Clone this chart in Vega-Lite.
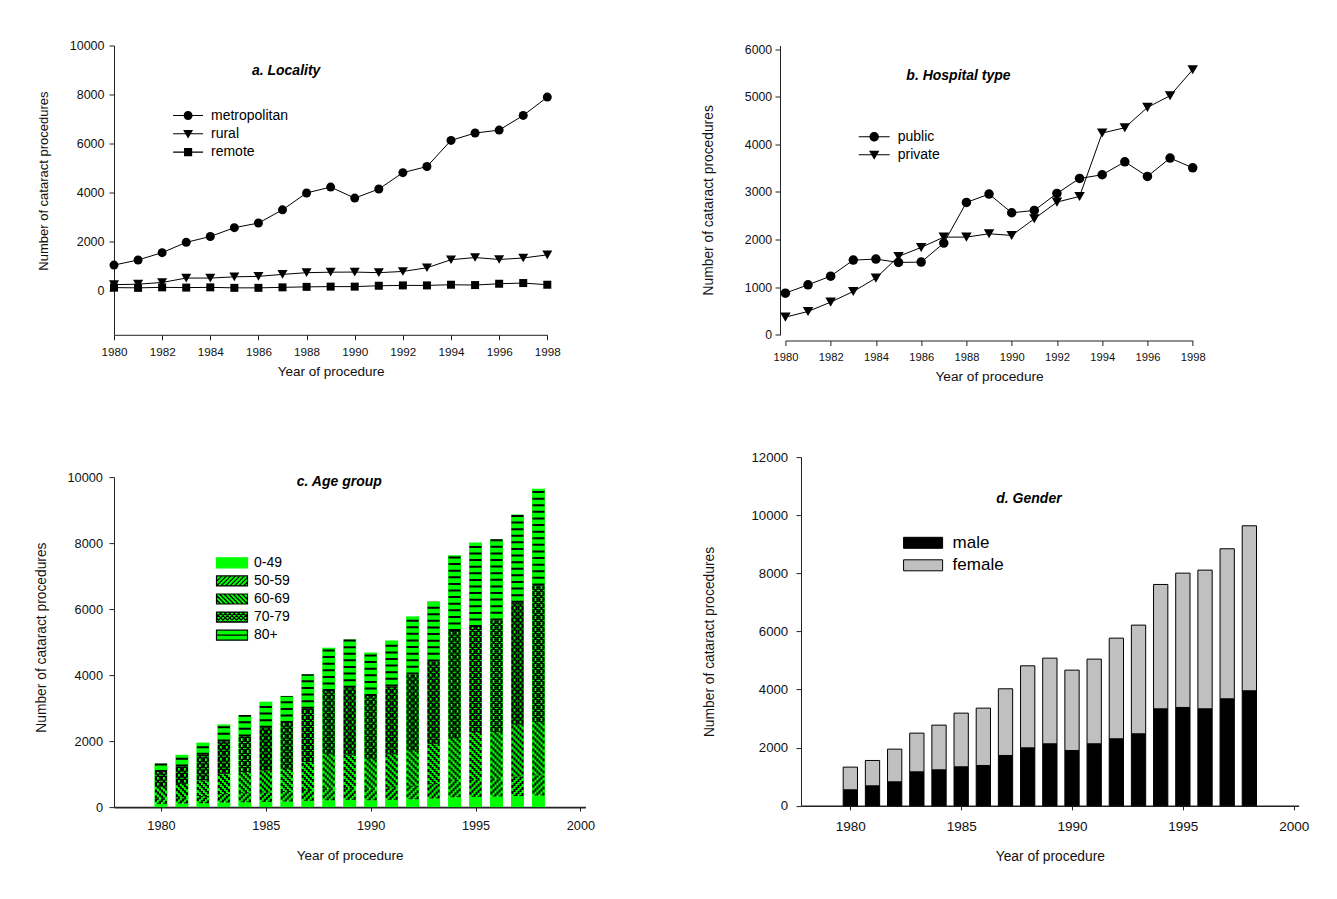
{
"$schema": "https://vega.github.io/schema/vega-lite/v6.json",
"background": "white",
"padding": {"left": 34, "top": 39.5, "right": 5, "bottom": 5},
"config": {
  "view": {"stroke": null},
  "font": "Liberation Sans",
  "axis": {"labelFlush": false, "grid": false, "domainColor": "#222", "tickColor": "#222", "labelColor": "#111", "titleColor": "#111", "titleFontWeight": "normal", "labelOverlap": false, "labelFont": "Liberation Sans", "titleFont": "Liberation Sans", "domainWidth": 1, "tickWidth": 1},
  "legend": {"labelFont": "Liberation Sans", "labelColor": "#000", "padding": 0}
},
"resolve": {"scale": {"shape": "independent", "fill": "independent", "stroke": "independent"}, "legend": {"shape": "independent", "fill": "independent", "stroke": "independent"}},
"datasets": {
  "locality": [
    {"year":1980,"series":"metropolitan","value":1020},{"year":1981,"series":"metropolitan","value":1230},{"year":1982,"series":"metropolitan","value":1530},{"year":1983,"series":"metropolitan","value":1950},{"year":1984,"series":"metropolitan","value":2190},{"year":1985,"series":"metropolitan","value":2550},{"year":1986,"series":"metropolitan","value":2740},{"year":1987,"series":"metropolitan","value":3280},{"year":1988,"series":"metropolitan","value":3970},{"year":1989,"series":"metropolitan","value":4210},{"year":1990,"series":"metropolitan","value":3760},{"year":1991,"series":"metropolitan","value":4130},{"year":1992,"series":"metropolitan","value":4800},{"year":1993,"series":"metropolitan","value":5050},{"year":1994,"series":"metropolitan","value":6120},{"year":1995,"series":"metropolitan","value":6420},{"year":1996,"series":"metropolitan","value":6540},{"year":1997,"series":"metropolitan","value":7140},{"year":1998,"series":"metropolitan","value":7890},
    {"year":1980,"series":"rural","value":220},{"year":1981,"series":"rural","value":240},{"year":1982,"series":"rural","value":310},{"year":1983,"series":"rural","value":490},{"year":1984,"series":"rural","value":490},{"year":1985,"series":"rural","value":540},{"year":1986,"series":"rural","value":560},{"year":1987,"series":"rural","value":640},{"year":1988,"series":"rural","value":710},{"year":1989,"series":"rural","value":730},{"year":1990,"series":"rural","value":735},{"year":1991,"series":"rural","value":710},{"year":1992,"series":"rural","value":760},{"year":1993,"series":"rural","value":910},{"year":1994,"series":"rural","value":1240},{"year":1995,"series":"rural","value":1330},{"year":1996,"series":"rural","value":1250},{"year":1997,"series":"rural","value":1310},{"year":1998,"series":"rural","value":1440},
    {"year":1980,"series":"remote","value":100},{"year":1981,"series":"remote","value":90},{"year":1982,"series":"remote","value":110},{"year":1983,"series":"remote","value":100},{"year":1984,"series":"remote","value":110},{"year":1985,"series":"remote","value":90},{"year":1986,"series":"remote","value":90},{"year":1987,"series":"remote","value":110},{"year":1988,"series":"remote","value":130},{"year":1989,"series":"remote","value":140},{"year":1990,"series":"remote","value":140},{"year":1991,"series":"remote","value":176},{"year":1992,"series":"remote","value":190},{"year":1993,"series":"remote","value":190},{"year":1994,"series":"remote","value":217},{"year":1995,"series":"remote","value":204},{"year":1996,"series":"remote","value":258},{"year":1997,"series":"remote","value":286},{"year":1998,"series":"remote","value":217}
  ],
  "hospital": [
    {"year":1980,"series":"public","value":875},{"year":1981,"series":"public","value":1050},{"year":1982,"series":"public","value":1232},{"year":1983,"series":"public","value":1569},{"year":1984,"series":"public","value":1590},{"year":1985,"series":"public","value":1520},{"year":1986,"series":"public","value":1527},{"year":1987,"series":"public","value":1926},{"year":1988,"series":"public","value":2780},{"year":1989,"series":"public","value":2955},{"year":1990,"series":"public","value":2563},{"year":1991,"series":"public","value":2612},{"year":1992,"series":"public","value":2969},{"year":1993,"series":"public","value":3284},{"year":1994,"series":"public","value":3361},{"year":1995,"series":"public","value":3634},{"year":1996,"series":"public","value":3326},{"year":1997,"series":"public","value":3711},{"year":1998,"series":"public","value":3508},
    {"year":1980,"series":"private","value":371},{"year":1981,"series":"private","value":490},{"year":1982,"series":"private","value":686},{"year":1983,"series":"private","value":910},{"year":1984,"series":"private","value":1190},{"year":1985,"series":"private","value":1646},{"year":1986,"series":"private","value":1835},{"year":1987,"series":"private","value":2052},{"year":1988,"series":"private","value":2052},{"year":1989,"series":"private","value":2122},{"year":1990,"series":"private","value":2087},{"year":1991,"series":"private","value":2437},{"year":1992,"series":"private","value":2787},{"year":1993,"series":"private","value":2906},{"year":1994,"series":"private","value":4237},{"year":1995,"series":"private","value":4349},{"year":1996,"series":"private","value":4776},{"year":1997,"series":"private","value":5021},{"year":1998,"series":"private","value":5567}
  ],
  "age": [
    {"year":1980,"group":"0-49","count":100},{"year":1980,"group":"50-59","count":160},{"year":1980,"group":"60-69","count":360},{"year":1980,"group":"70-79","count":440},{"year":1980,"group":"80+","count":260},
    {"year":1981,"group":"0-49","count":110},{"year":1981,"group":"50-59","count":190},{"year":1981,"group":"60-69","count":410},{"year":1981,"group":"70-79","count":522},{"year":1981,"group":"80+","count":353},
    {"year":1982,"group":"0-49","count":120},{"year":1982,"group":"50-59","count":220},{"year":1982,"group":"60-69","count":470},{"year":1982,"group":"70-79","count":776},{"year":1982,"group":"80+","count":369},
    {"year":1983,"group":"0-49","count":140},{"year":1983,"group":"50-59","count":260},{"year":1983,"group":"60-69","count":610},{"year":1983,"group":"70-79","count":980},{"year":1983,"group":"80+","count":515},
    {"year":1984,"group":"0-49","count":150},{"year":1984,"group":"50-59","count":270},{"year":1984,"group":"60-69","count":640},{"year":1984,"group":"70-79","count":1081},{"year":1984,"group":"80+","count":649},
    {"year":1985,"group":"0-49","count":160},{"year":1985,"group":"50-59","count":280},{"year":1985,"group":"60-69","count":670},{"year":1985,"group":"70-79","count":1294},{"year":1985,"group":"80+","count":791},
    {"year":1986,"group":"0-49","count":170},{"year":1986,"group":"50-59","count":290},{"year":1986,"group":"60-69","count":700},{"year":1986,"group":"70-79","count":1385},{"year":1986,"group":"80+","count":825},
    {"year":1987,"group":"0-49","count":190},{"year":1987,"group":"50-59","count":330},{"year":1987,"group":"60-69","count":844},{"year":1987,"group":"70-79","count":1616},{"year":1987,"group":"80+","count":1045},
    {"year":1988,"group":"0-49","count":210},{"year":1988,"group":"50-59","count":350},{"year":1988,"group":"60-69","count":1056},{"year":1988,"group":"70-79","count":1899},{"year":1988,"group":"80+","count":1315},
    {"year":1989,"group":"0-49","count":220},{"year":1989,"group":"50-59","count":360},{"year":1989,"group":"60-69","count":1016},{"year":1989,"group":"70-79","count":2020},{"year":1989,"group":"80+","count":1464},
    {"year":1990,"group":"0-49","count":210},{"year":1990,"group":"50-59","count":350},{"year":1990,"group":"60-69","count":905},{"year":1990,"group":"70-79","count":1899},{"year":1990,"group":"80+","count":1321},
    {"year":1991,"group":"0-49","count":220},{"year":1991,"group":"50-59","count":380},{"year":1991,"group":"60-69","count":1016},{"year":1991,"group":"70-79","count":2041},{"year":1991,"group":"80+","count":1393},
    {"year":1992,"group":"0-49","count":240},{"year":1992,"group":"50-59","count":410},{"year":1992,"group":"60-69","count":1067},{"year":1992,"group":"70-79","count":2303},{"year":1992,"group":"80+","count":1760},
    {"year":1993,"group":"0-49","count":260},{"year":1993,"group":"50-59","count":440},{"year":1993,"group":"60-69","count":1219},{"year":1993,"group":"70-79","count":2495},{"year":1993,"group":"80+","count":1811},
    {"year":1994,"group":"0-49","count":300},{"year":1994,"group":"50-59","count":500},{"year":1994,"group":"60-69","count":1301},{"year":1994,"group":"70-79","count":3232},{"year":1994,"group":"80+","count":2297},
    {"year":1995,"group":"0-49","count":310},{"year":1995,"group":"50-59","count":540},{"year":1995,"group":"60-69","count":1423},{"year":1995,"group":"70-79","count":3182},{"year":1995,"group":"80+","count":2560},
    {"year":1996,"group":"0-49","count":320},{"year":1996,"group":"50-59","count":550},{"year":1996,"group":"60-69","count":1403},{"year":1996,"group":"70-79","count":3384},{"year":1996,"group":"80+","count":2463},
    {"year":1997,"group":"0-49","count":340},{"year":1997,"group":"50-59","count":590},{"year":1997,"group":"60-69","count":1575},{"year":1997,"group":"70-79","count":3687},{"year":1997,"group":"80+","count":2673},
    {"year":1998,"group":"0-49","count":350},{"year":1998,"group":"50-59","count":610},{"year":1998,"group":"60-69","count":1616},{"year":1998,"group":"70-79","count":4141},{"year":1998,"group":"80+","count":2928}
  ],
  "gender": [
    {"year":1980,"sex":"male","count":551},{"year":1980,"sex":"female","count":780},
    {"year":1981,"sex":"male","count":688},{"year":1981,"sex":"female","count":872},
    {"year":1982,"sex":"male","count":826},{"year":1982,"sex":"female","count":1124},
    {"year":1983,"sex":"male","count":1170},{"year":1983,"sex":"female","count":1331},
    {"year":1984,"sex":"male","count":1239},{"year":1984,"sex":"female","count":1537},
    {"year":1985,"sex":"male","count":1342},{"year":1985,"sex":"female","count":1847},
    {"year":1986,"sex":"male","count":1388},{"year":1986,"sex":"female","count":1973},
    {"year":1987,"sex":"male","count":1732},{"year":1987,"sex":"female","count":2295},
    {"year":1988,"sex":"male","count":1996},{"year":1988,"sex":"female","count":2822},
    {"year":1989,"sex":"male","count":2134},{"year":1989,"sex":"female","count":2948},
    {"year":1990,"sex":"male","count":1904},{"year":1990,"sex":"female","count":2765},
    {"year":1991,"sex":"male","count":2134},{"year":1991,"sex":"female","count":2914},
    {"year":1992,"sex":"male","count":2306},{"year":1992,"sex":"female","count":3464},
    {"year":1993,"sex":"male","count":2478},{"year":1993,"sex":"female","count":3740},
    {"year":1994,"sex":"male","count":3338},{"year":1994,"sex":"female","count":4279},
    {"year":1995,"sex":"male","count":3384},{"year":1995,"sex":"female","count":4623},
    {"year":1996,"sex":"male","count":3338},{"year":1996,"sex":"female","count":4773},
    {"year":1997,"sex":"male","count":3682},{"year":1997,"sex":"female","count":5163},
    {"year":1998,"sex":"male","count":3958},{"year":1998,"sex":"female","count":5678}
  ]
},
"vconcat": [
  {
    "resolve": {"scale": {"shape": "independent", "fill": "independent", "stroke": "independent"}, "legend": {"shape": "independent", "fill": "independent", "stroke": "independent"}},
    "hconcat": [
      {
        "width": 433.3, "height": 289.3,
        "title": {"text": "a. Locality", "frame": "group", "anchor": "middle", "orient": "top", "offset": 0, "baseline": "middle", "dx": -44.5, "dy": 45.5, "fontSize": 14, "fontStyle": "italic", "fontWeight": "bold", "color": "#000"},
        "data": {"name": "locality"},
        "encoding": {
          "x": {"field": "year", "type": "quantitative", "scale": {"domain": [1980, 1998], "nice": false, "zero": false},
                "axis": {"values": [1980,1982,1984,1986,1988,1990,1992,1994,1996,1998], "format": "d", "title": "Year of procedure", "labelFontSize": 11.7, "labelPadding": 7, "tickSize": 5, "titleFontSize": 13.5, "titleY": 36.7, "titleBaseline": "middle"}},
          "y": {"field": "value", "type": "quantitative", "scale": {"domain": [-1830, 10000], "nice": false, "zero": false},
                "axis": {"values": [0,2000,4000,6000,8000,10000], "format": "d", "title": "Number of cataract procedures", "labelFontSize": 12.5, "labelPadding": 5, "tickSize": 5, "titleFontSize": 13, "titleX": -71, "titleY": 135.1, "titleBaseline": "middle"}}
        },
        "layer": [
          {"mark": {"type": "line", "color": "#000", "strokeWidth": 1}, "encoding": {"detail": {"field": "series"}}},
          {"transform": [{"filter": {"field": "series", "equal": "metropolitan"}}], "mark": {"type": "point", "shape": "circle", "filled": true, "color": "#000", "size": 81, "opacity": 1}},
          {"transform": [{"filter": {"field": "series", "equal": "rural"}}], "mark": {"type": "point", "shape": "triangle-down", "filled": true, "color": "#000", "size": 100, "opacity": 1}},
          {"transform": [{"filter": {"field": "series", "equal": "remote"}}], "mark": {"type": "point", "shape": "square", "filled": true, "color": "#000", "size": 64, "opacity": 1}},
          {"transform": [{"filter": {"field": "year", "lt": 0}}], "mark": {"type": "point", "filled": true, "color": "#000", "opacity": 1},
           "encoding": {"shape": {"field": "series", "type": "nominal",
             "scale": {"domain": ["metropolitan", "rural", "remote"], "range": [
               "M-3.33,-0.12H-0.9V0.12H-3.33Z M0.9,-0.12H3.33V0.12H0.9Z M-1,0A1,1 0 1,1 1,0A1,1 0 1,1 -1,0Z",
               "M-3.33,-0.12H-0.5V0.12H-3.33Z M0.5,-0.12H3.33V0.12H0.5Z M-1.1,-0.85L1.1,-0.85L0,1.05Z",
               "M-3.33,-0.12H-0.9V0.12H-3.33Z M0.9,-0.12H3.33V0.12H0.9Z M-0.9,-0.9H0.9V0.9H-0.9Z"]},
             "legend": {"orient": "none", "legendX": 67.1, "legendY": 63, "title": null, "symbolSize": 81, "symbolFillColor": "#000", "symbolStrokeColor": "#000", "symbolStrokeWidth": 0, "symbolOpacity": 1, "labelFontSize": 14, "labelOffset": 15.9, "rowPadding": 4.3}}}}
        ]
      },
      {
        "width": 407.3, "height": 289.3,
        "title": {"text": "b. Hospital type", "frame": "group", "anchor": "middle", "orient": "top", "offset": 0, "baseline": "middle", "dx": -30.6, "dy": 46.8, "fontSize": 14, "fontStyle": "italic", "fontWeight": "bold", "color": "#000"},
        "data": {"name": "hospital"},
        "encoding": {
          "x": {"field": "year", "type": "quantitative", "scale": {"domain": [1980, 1998], "nice": false, "zero": false},
                "axis": {"values": [1980,1982,1984,1986,1988,1990,1992,1994,1996,1998], "format": "d", "title": "Year of procedure", "offset": 5.7, "labelFontSize": 11.2, "labelPadding": 5.5, "tickSize": 5, "titleFontSize": 13.7, "titleY": 36, "titleBaseline": "middle"}},
          "y": {"field": "value", "type": "quantitative", "scale": {"domain": [0, 6076], "nice": false, "zero": false},
                "axis": {"values": [0,1000,2000,3000,4000,5000,6000], "format": "d", "title": "Number of cataract procedures", "offset": 5.4, "labelFontSize": 12.3, "labelPadding": 3.3, "tickSize": 5, "titleFontSize": 13.8, "titleX": -71.3, "titleY": 154.3, "titleBaseline": "middle"}}
        },
        "layer": [
          {"mark": {"type": "line", "color": "#000", "strokeWidth": 1}, "encoding": {"detail": {"field": "series"}}},
          {"transform": [{"filter": {"field": "series", "equal": "public"}}], "mark": {"type": "point", "shape": "circle", "filled": true, "color": "#000", "size": 90, "opacity": 1}},
          {"transform": [{"filter": {"field": "series", "equal": "private"}}], "mark": {"type": "point", "shape": "triangle-down", "filled": true, "color": "#000", "size": 110, "opacity": 1}},
          {"transform": [{"filter": {"field": "year", "lt": 0}}], "mark": {"type": "point", "filled": true, "color": "#000", "opacity": 1},
           "encoding": {"shape": {"field": "series", "type": "nominal",
             "scale": {"domain": ["public", "private"], "range": [
               "M-3.44,-0.12H-0.9V0.12H-3.44Z M0.9,-0.12H3.44V0.12H0.9Z M-1.05,0A1.05,1.05 0 1,1 1.05,0A1.05,1.05 0 1,1 -1.05,0Z",
               "M-3.44,-0.12H-0.5V0.12H-3.44Z M0.5,-0.12H3.44V0.12H0.5Z M-1.15,-0.9L1.15,-0.9L0,1.1Z"]},
             "legend": {"orient": "none", "legendX": 81.8, "legendY": 84.3, "title": null, "symbolSize": 81, "symbolFillColor": "#000", "symbolStrokeColor": "#000", "symbolStrokeWidth": 0, "symbolOpacity": 1, "labelFontSize": 14, "labelOffset": 16.5, "rowPadding": 4}}}}
        ]
      }
    ],
    "spacing": 237.4,
    "bounds": "flush"
  },
  {
    "resolve": {"scale": {"shape": "independent", "fill": "independent", "stroke": "independent"}, "legend": {"shape": "independent", "fill": "independent", "stroke": "independent"}},
    "hconcat": [
      {
        "vconcat": [
          {"width": 10, "height": 19.4, "data": {"values": [{"a": 1}]}, "mark": {"type": "point", "opacity": 0}, "encoding": {}},
          {
            "width": 471.4, "height": 330,
            "title": {"text": "c. Age group", "frame": "group", "anchor": "middle", "orient": "top", "offset": 0, "baseline": "middle", "dx": -10.4, "dy": 24.7, "fontSize": 14, "fontStyle": "italic", "fontWeight": "bold", "color": "#000"},
            "data": {"name": "age"},
            "transform": [{"stack": "count", "groupby": ["year"], "sort": [{"field": "group", "order": "ascending"}], "as": ["y0", "y1"]}],
            "encoding": {
              "x": {"field": "year", "type": "quantitative", "scale": {"domain": [1978, 2000], "nice": false, "zero": false},
                    "axis": {"values": [1980,1985,1990,1995,2000], "format": "d", "title": "Year of procedure", "labelFontSize": 12.7, "labelPadding": 8.8, "tickSize": 4, "domainWidth": 1.6, "titleFontSize": 13.5, "titleY": 48.3, "titleBaseline": "middle"}},
              "y": {"field": "y0", "type": "quantitative", "scale": {"domain": [0, 10000], "nice": false},
                    "axis": {"values": [0,2000,4000,6000,8000,10000], "format": "d", "title": "Number of cataract procedures", "labelFontSize": 12.8, "labelPadding": 6.5, "tickSize": 5, "titleFontSize": 13.8, "titleX": -72.2, "titleY": 160, "titleBaseline": "middle"}},
              "y2": {"field": "y1"}
            },
            "layer": [
              {"mark": {"type": "bar", "width": 13, "color": "#00ff00", "opacity": 1}},
              {"transform": [{"filter": {"field": "group", "equal": "80+"}}], "mark": {"type": "rule", "color": "#000", "strokeWidth": 12, "strokeDash": [2, 4.6], "opacity": 1}},
              {"transform": [{"filter": {"field": "group", "equal": "60-69"}}], "mark": {"type": "rule", "color": "#000", "strokeWidth": 2, "strokeDash": [3, 3], "xOffset": -5, "strokeDashOffset": 0}},
              {"transform": [{"filter": {"field": "group", "equal": "60-69"}}], "mark": {"type": "rule", "color": "#000", "strokeWidth": 2, "strokeDash": [3, 3], "xOffset": -3, "strokeDashOffset": 2}},
              {"transform": [{"filter": {"field": "group", "equal": "60-69"}}], "mark": {"type": "rule", "color": "#000", "strokeWidth": 2, "strokeDash": [3, 3], "xOffset": -1, "strokeDashOffset": 4}},
              {"transform": [{"filter": {"field": "group", "equal": "60-69"}}], "mark": {"type": "rule", "color": "#000", "strokeWidth": 2, "strokeDash": [3, 3], "xOffset": 1, "strokeDashOffset": 6}},
              {"transform": [{"filter": {"field": "group", "equal": "60-69"}}], "mark": {"type": "rule", "color": "#000", "strokeWidth": 2, "strokeDash": [3, 3], "xOffset": 3, "strokeDashOffset": 8}},
              {"transform": [{"filter": {"field": "group", "equal": "60-69"}}], "mark": {"type": "rule", "color": "#000", "strokeWidth": 2, "strokeDash": [3, 3], "xOffset": 5, "strokeDashOffset": 10}},
              {"transform": [{"filter": {"field": "group", "equal": "50-59"}}], "mark": {"type": "rule", "color": "#000", "strokeWidth": 2, "strokeDash": [3, 3], "xOffset": -5, "strokeDashOffset": 10}},
              {"transform": [{"filter": {"field": "group", "equal": "50-59"}}], "mark": {"type": "rule", "color": "#000", "strokeWidth": 2, "strokeDash": [3, 3], "xOffset": -3, "strokeDashOffset": 8}},
              {"transform": [{"filter": {"field": "group", "equal": "50-59"}}], "mark": {"type": "rule", "color": "#000", "strokeWidth": 2, "strokeDash": [3, 3], "xOffset": -1, "strokeDashOffset": 6}},
              {"transform": [{"filter": {"field": "group", "equal": "50-59"}}], "mark": {"type": "rule", "color": "#000", "strokeWidth": 2, "strokeDash": [3, 3], "xOffset": 1, "strokeDashOffset": 4}},
              {"transform": [{"filter": {"field": "group", "equal": "50-59"}}], "mark": {"type": "rule", "color": "#000", "strokeWidth": 2, "strokeDash": [3, 3], "xOffset": 3, "strokeDashOffset": 2}},
              {"transform": [{"filter": {"field": "group", "equal": "50-59"}}], "mark": {"type": "rule", "color": "#000", "strokeWidth": 2, "strokeDash": [3, 3], "xOffset": 5, "strokeDashOffset": 0}},
              {"transform": [{"filter": {"field": "group", "equal": "70-79"}}], "mark": {"type": "rule", "color": "#000", "strokeWidth": 2, "strokeDash": [3, 3], "xOffset": -5, "strokeDashOffset": 0}},
              {"transform": [{"filter": {"field": "group", "equal": "70-79"}}], "mark": {"type": "rule", "color": "#000", "strokeWidth": 2, "strokeDash": [3, 3], "xOffset": -3, "strokeDashOffset": 2}},
              {"transform": [{"filter": {"field": "group", "equal": "70-79"}}], "mark": {"type": "rule", "color": "#000", "strokeWidth": 2, "strokeDash": [3, 3], "xOffset": -1, "strokeDashOffset": 4}},
              {"transform": [{"filter": {"field": "group", "equal": "70-79"}}], "mark": {"type": "rule", "color": "#000", "strokeWidth": 2, "strokeDash": [3, 3], "xOffset": 1, "strokeDashOffset": 6}},
              {"transform": [{"filter": {"field": "group", "equal": "70-79"}}], "mark": {"type": "rule", "color": "#000", "strokeWidth": 2, "strokeDash": [3, 3], "xOffset": 3, "strokeDashOffset": 8}},
              {"transform": [{"filter": {"field": "group", "equal": "70-79"}}], "mark": {"type": "rule", "color": "#000", "strokeWidth": 2, "strokeDash": [3, 3], "xOffset": 5, "strokeDashOffset": 10}},
              {"transform": [{"filter": {"field": "group", "equal": "70-79"}}], "mark": {"type": "rule", "color": "#000", "strokeWidth": 2, "strokeDash": [3, 3], "xOffset": -5, "strokeDashOffset": 10}},
              {"transform": [{"filter": {"field": "group", "equal": "70-79"}}], "mark": {"type": "rule", "color": "#000", "strokeWidth": 2, "strokeDash": [3, 3], "xOffset": -3, "strokeDashOffset": 8}},
              {"transform": [{"filter": {"field": "group", "equal": "70-79"}}], "mark": {"type": "rule", "color": "#000", "strokeWidth": 2, "strokeDash": [3, 3], "xOffset": -1, "strokeDashOffset": 6}},
              {"transform": [{"filter": {"field": "group", "equal": "70-79"}}], "mark": {"type": "rule", "color": "#000", "strokeWidth": 2, "strokeDash": [3, 3], "xOffset": 1, "strokeDashOffset": 4}},
              {"transform": [{"filter": {"field": "group", "equal": "70-79"}}], "mark": {"type": "rule", "color": "#000", "strokeWidth": 2, "strokeDash": [3, 3], "xOffset": 3, "strokeDashOffset": 2}},
              {"transform": [{"filter": {"field": "group", "equal": "70-79"}}], "mark": {"type": "rule", "color": "#000", "strokeWidth": 2, "strokeDash": [3, 3], "xOffset": 5, "strokeDashOffset": 0}},
              {"transform": [{"filter": {"field": "year", "lt": 0}}], "mark": {"type": "point", "filled": true, "opacity": 1, "strokeWidth": 1.2},
               "encoding": {
                 "fill": {"field": "group", "type": "nominal", "scale": {"domain": ["0-49","50-59","60-69","70-79","80+"], "range": ["#00ff00","#00ff00","#00ff00","#00ff00","#00ff00"]},
                          "legend": {"orient": "none", "legendX": 111, "legendY": 98.7, "title": null, "symbolSize": 100, "symbolStrokeWidth": 1.2, "symbolOpacity": 1, "labelFontSize": 14, "labelOffset": 15, "rowPadding": 2.1}},
                 "stroke": {"field": "group", "type": "nominal", "scale": {"domain": ["0-49","50-59","60-69","70-79","80+"], "range": ["#00ff00","#000000","#000000","#000000","#000000"]}},
                 "shape": {"field": "group", "type": "nominal", "scale": {"domain": ["0-49","50-59","60-69","70-79","80+"], "range": [
                   "M-3.1,-1H3.1V1H-3.1Z",
                   "M-3.1,-1H3.1V1H-3.1Z M-3.1,0.1L-2,-1 M-3.1,1L-1.1,-1 M-2.2,1L-0.2,-1 M-1.3,1L0.7,-1 M-0.4,1L1.6,-1 M0.5,1L2.5,-1 M1.4,1L3.1,-0.7 M2.3,1L3.1,0.2",
                   "M-3.1,-1H3.1V1H-3.1Z M3.1,0.1L2,-1 M3.1,1L1.1,-1 M2.2,1L0.2,-1 M1.3,1L-0.7,-1 M0.4,1L-1.6,-1 M-0.5,1L-2.5,-1 M-1.4,1L-3.1,-0.7 M-2.3,1L-3.1,0.2",
                   "M-3.1,-1H3.1V1H-3.1Z M-3.1,0.1L-2,-1 M-3.1,1L-1.1,-1 M-2.2,1L-0.2,-1 M-1.3,1L0.7,-1 M-0.4,1L1.6,-1 M0.5,1L2.5,-1 M1.4,1L3.1,-0.7 M2.3,1L3.1,0.2 M3.1,0.1L2,-1 M3.1,1L1.1,-1 M2.2,1L0.2,-1 M1.3,1L-0.7,-1 M0.4,1L-1.6,-1 M-0.5,1L-2.5,-1 M-1.4,1L-3.1,-0.7 M-2.3,1L-3.1,0.2",
                   "M-3.1,-1H3.1V1H-3.1Z M-3.1,0H3.1"]}}
               }}
            ]
          }
        ],
        "spacing": 0,
        "bounds": "flush"
      },
      {
        "width": 497.7, "height": 348.7,
        "title": {"text": "d. Gender", "frame": "group", "anchor": "middle", "orient": "top", "offset": 0, "baseline": "middle", "dx": -20.9, "dy": 62.7, "fontSize": 14, "fontStyle": "italic", "fontWeight": "bold", "color": "#000"},
        "data": {"name": "gender"},
        "mark": {"type": "bar", "width": 14.3, "stroke": "#000", "strokeWidth": 1, "opacity": 1},
        "encoding": {
          "x": {"field": "year", "type": "quantitative", "scale": {"domain": [1978, 2000], "nice": false, "zero": false},
                "axis": {"values": [1980,1985,1990,1995,2000], "format": "d", "title": "Year of procedure", "labelFontSize": 13.5, "labelPadding": 9.2, "tickSize": 4, "domainWidth": 1.6, "titleFontSize": 13.8, "titleY": 50.7, "titleBaseline": "middle"}},
          "y": {"field": "count", "type": "quantitative", "stack": "zero", "scale": {"domain": [0, 12000], "nice": false},
                "axis": {"values": [0,2000,4000,6000,8000,10000,12000], "format": "d", "title": "Number of cataract procedures", "labelFontSize": 13.2, "labelPadding": 8.3, "tickSize": 5, "titleFontSize": 13.8, "titleX": -91.7, "titleY": 184.4, "titleBaseline": "middle"}},
          "fill": {"field": "sex", "type": "nominal", "scale": {"domain": ["male", "female"], "range": ["#000000", "#c0c0c0"]},
                   "legend": {"orient": "none", "legendX": 113.6, "legendY": 77.2, "title": null, "symbolType": "M-3.55,-1H3.55V1H-3.55Z", "symbolSize": 121, "symbolStrokeColor": "#000", "symbolStrokeWidth": 1, "symbolOpacity": 1, "labelFontSize": 17, "labelOffset": 21, "rowPadding": 4.5}},
          "order": {"field": "sex", "sort": "descending"}
        }
      }
    ],
    "spacing": 687,
    "bounds": "flush"
  }
],
"spacing": 411.6,
"bounds": "flush"
}
